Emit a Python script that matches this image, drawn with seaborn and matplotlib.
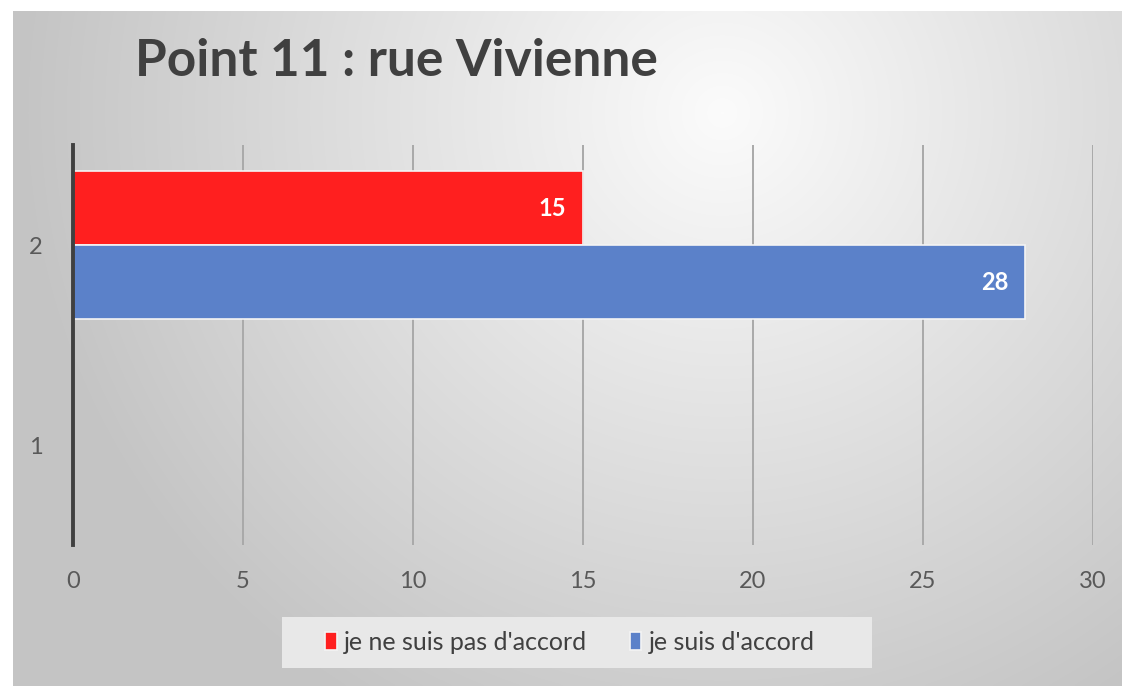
import numpy as np
import pandas as pd
import matplotlib
matplotlib.use("Agg")
import matplotlib.pyplot as plt
from matplotlib.patches import Rectangle
import seaborn as sns

# ---- data ----
categories = ["2", "1"]
series = ["je ne suis pas d'accord", "je suis d'accord"]
values_cat2 = [15, 28]
colors = ["#ff1f1f", "#5b81c9"]
xticks = [0, 5, 10, 15, 20, 25, 30]
title = "Point 11 : rue Vivienne"

df = pd.DataFrame({
    "point": ["2", "2"],
    "avis": series,
    "valeur": values_cat2,
})

sns.set_theme(style="white")
plt.rcParams["font.family"] = ["Lato", "DejaVu Sans"]

W, H = 1122, 686
fig = plt.figure(figsize=(W / 100, H / 100), dpi=100)
fig.patch.set_facecolor("white")

# gradient background panel
bg = fig.add_axes([13 / W, 0, 1 - 13 / W, 1 - 11 / H], zorder=0)
gx, gy = np.meshgrid(np.linspace(0, 1, 400), np.linspace(0, 1, 300))
r = np.sqrt(((gx - 0.64) / 0.62) ** 2 + ((gy - 0.15) / 1.0) ** 2)
v = np.clip(0.985 - 0.21 * r, 0.77, 1.0)
bg.imshow(np.dstack([v, v, v]), aspect="auto", extent=(0, 1, 1, 0), interpolation="bicubic")
bg.set_axis_off()

ax = fig.add_axes([73 / W, 1 - 545 / H, (1093 - 73) / W, (545 - 145) / H], zorder=1)
ax.patch.set_alpha(0)

sns.barplot(data=df, x="valeur", y="point", hue="avis", order=categories,
            hue_order=series, palette=colors, orient="h", width=0.74,
            edgecolor="#f4f4f4", linewidth=1.2, saturation=1, ax=ax, legend=True)

ax.set_xlim(0, 30)
ax.set_xticks(xticks)
ax.set_xlabel("")
ax.set_ylabel("")
ax.grid(axis="x", color="#a9a9a9", linewidth=1.4)
ax.grid(axis="y", visible=False)
ax.set_axisbelow(True)
for s in ["top", "right", "bottom"]:
    ax.spines[s].set_visible(False)
ax.spines["left"].set_color("#404040")
ax.spines["left"].set_linewidth(2.8)
ax.tick_params(axis="both", length=0, labelsize=17, labelcolor="#595959")
ax.tick_params(axis="x", pad=19)
ax.tick_params(axis="y", pad=22)

for cont in ax.containers:
    for p in cont:
        w = p.get_width()
        if np.isnan(w) or w == 0:
            continue
        ax.annotate(f"{int(round(w))}", xy=(w, p.get_y() + p.get_height() / 2),
                    xytext=(-12, 0), textcoords="offset points",
                    ha="right", va="center", color="white",
                    fontsize=17, fontweight="bold")

# legend box
fig.patches.append(Rectangle((282 / W, 1 - 668 / H), (872 - 282) / W, (668 - 617) / H,
                             transform=fig.transFigure, facecolor="#e8e8e8",
                             edgecolor="none", zorder=2))

leg = ax.get_legend()
handles, labels = ax.get_legend_handles_labels()
leg.remove()
fig.legend(handles, labels, loc="center", bbox_to_anchor=(570 / W, 1 - 642 / H),
           ncol=2, frameon=False,
           fontsize=18, handlelength=0.45, handleheight=0.7, handletextpad=0.3,
           columnspacing=1.7, borderpad=0.4, borderaxespad=0, labelcolor="#404040")

fig.text(135 / W, 1 - 62 / H, title, ha="left", va="center",
         fontsize=37, fontweight="bold", color="#404040")

fig.savefig("out.png", dpi=100)
